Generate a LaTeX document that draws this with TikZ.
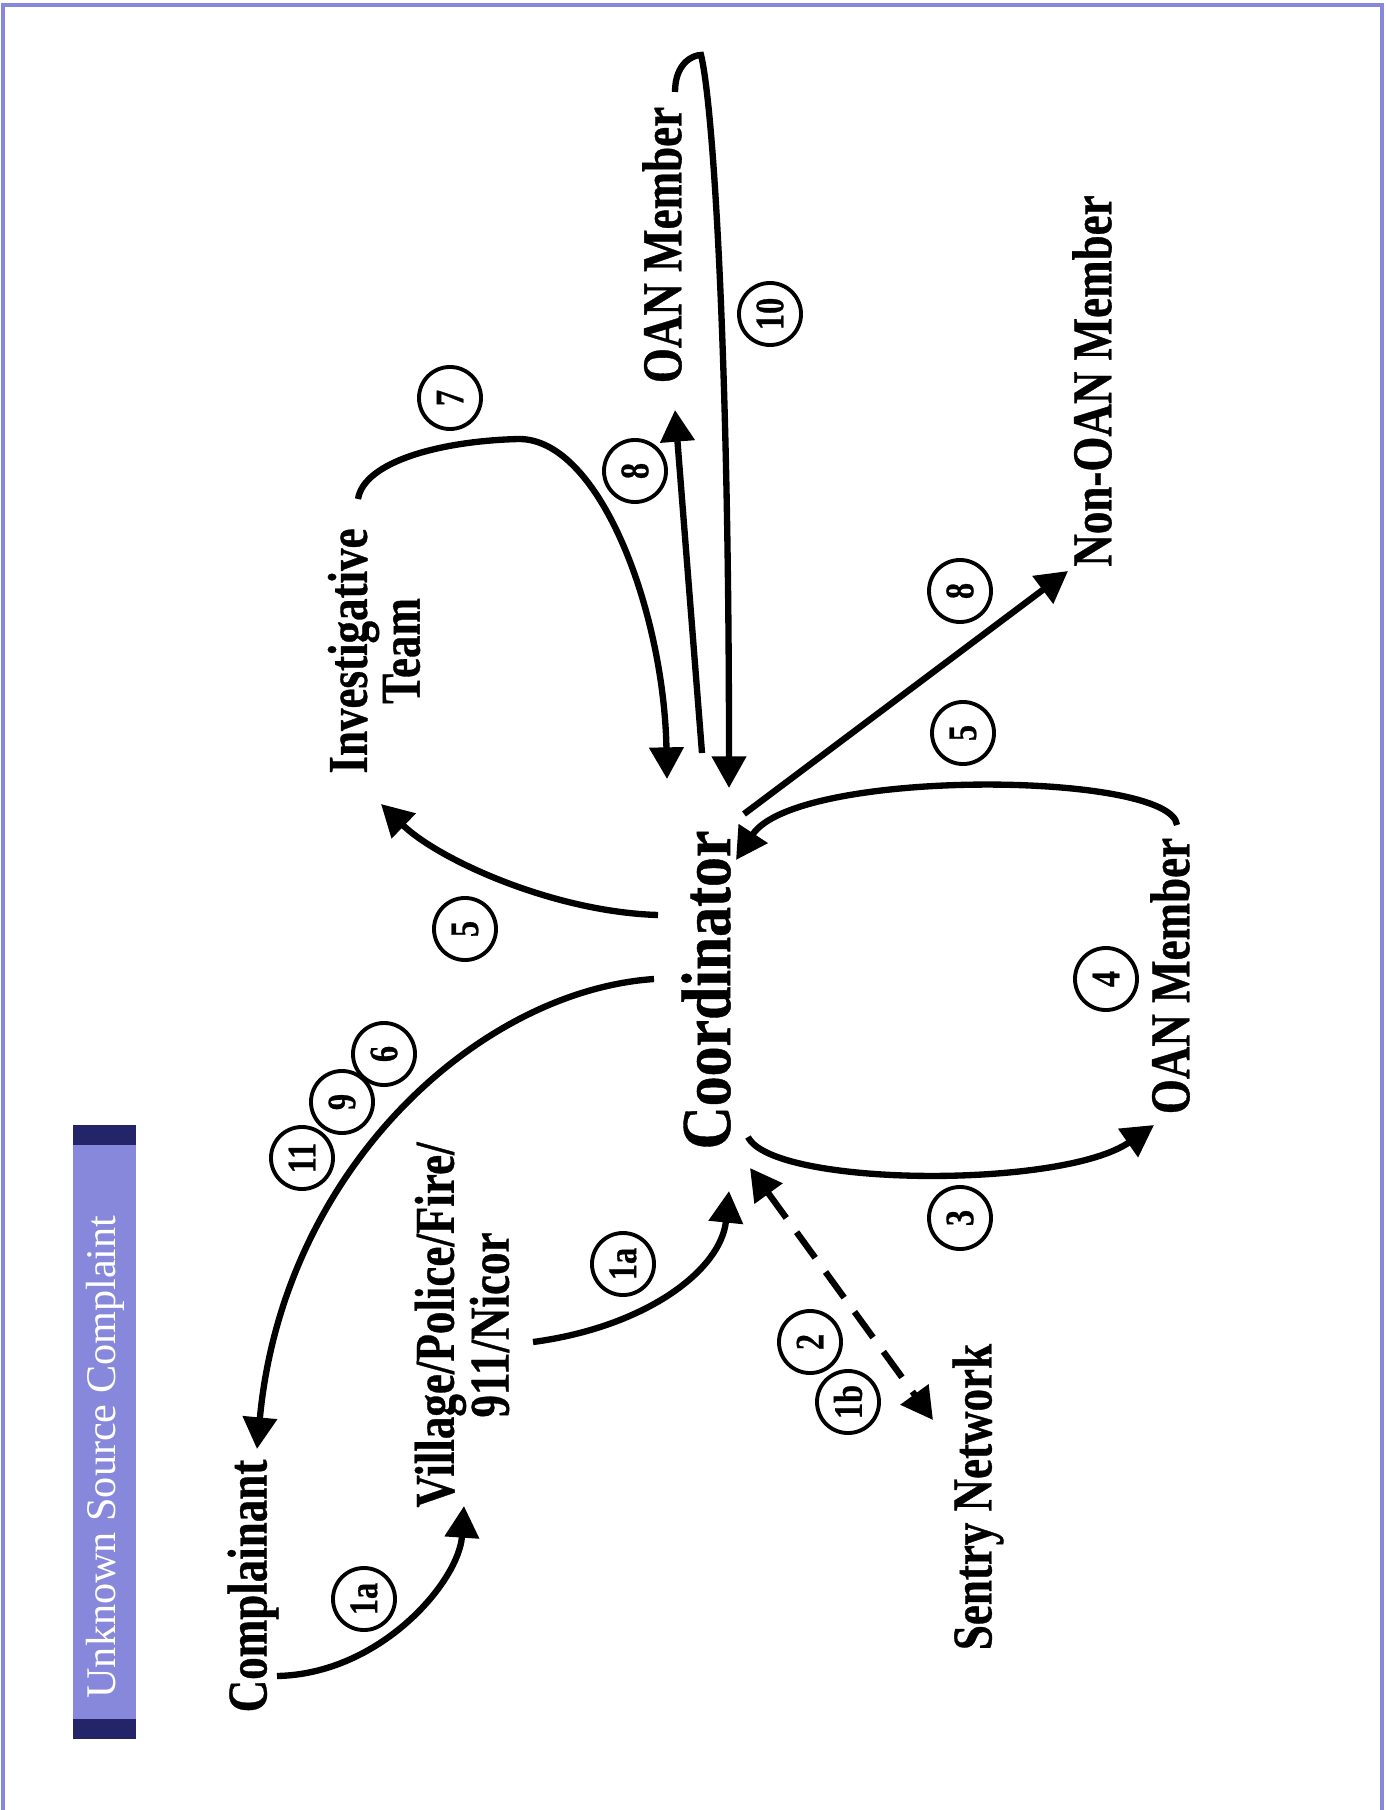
\documentclass[tikz,border=0pt]{standalone}
\usepackage{fontspec}
\usetikzlibrary{arrows.meta, calc}
\newfontfamily\lblfont[FakeStretch=0.8, BoldFeatures={FakeBold=0.6}]{Liberation Serif}
\newfontfamily\coordfont[FakeStretch=0.85, BoldFeatures={FakeBold=0.6}]{Liberation Serif}
\newfontfamily\titlefont{Liberation Serif}
\definecolor{barblue}{RGB}{135,135,220}
\definecolor{barnavy}{RGB}{36,36,104}
\tikzset{
  party/.style={font=\lblfont\bfseries\fontsize{16}{14}\selectfont, align=center, inner sep=0pt, rotate=90},
  num/.style={draw, circle, line width=1.1pt, minimum size=6.2mm, inner sep=0pt, rotate=90, font=\lblfont\bfseries\fontsize{11.5}{11.5}\selectfont},
  flow/.style={line width=1.8pt, ->},
  >={Triangle[length=9pt, width=9.5pt]},
}

\begin{document}
\begin{tikzpicture}[x=0.01cm, y=-0.01cm]
  \useasboundingbox (0,0) rectangle (1385,1810);
  % frame and title bar
  \draw[barblue, line width=0.9pt] (3,1810) |- (1382,5) -- (1382,1810);
  \fill[barblue] (73,1125) rectangle (136,1739);
  \fill[barnavy] (73,1125) rectangle (136,1145);
  \fill[barnavy] (73,1719) rectangle (136,1739);
  \node[rotate=90, text=white, font=\titlefont\fontsize{12}{12}\selectfont] (title) at (105,1457) {Unknown Source Complaint};

  % parties
  \node[party] (comp) at (253,1586) {Complainant};
  \node[party] (vil) at (462,1325) {Village/Police/Fire/\\911/Nicor};
  \node[party, font=\coordfont\bfseries\fontsize{20}{20}\selectfont] (coord) at (706,990) {Coordinator};
  \node[party] (invest) at (374,651) {Investigative\\Team};
  \node[party] (oantop) at (662,245) {OAN Member};
  \node[party] (nonoan) at (1092,381) {Non-OAN Member};
  \node[party] (oanlow) at (1170,976) {OAN Member};
  \node[party] (sentry) at (978,1497) {Sentry Network};

  % flows
  \draw[flow] ($(comp)+(24,90)$) .. controls +(104,-2) and +(-5,75) .. ($(vil)+(2,181)$);
  \draw[flow] ($(vil)+(71,17)$) .. controls +(113,-15) and +(-8,79) .. ($(coord)+(23,201)$);
  \draw[flow] ($(coord)+(-52,-11)$) .. controls +(-175,12) and +(26,-280) .. ($(comp)+(4,-137)$);
  \draw[line width=1.8pt, <->, dash pattern=on 9pt off 5pt] ($(coord)+(44,178)$) -- ($(sentry)+(-45,-77)$);
  \draw[flow] ($(coord)+(42,147)$) .. controls +(25,50) and +(-92,64) .. ($(oanlow)+(-16,149)$);
  \draw[flow] ($(oanlow)+(7,-151)$) .. controls +(-6,-54) and +(60,-92) .. ($(coord)+(30,-130)$);
  \draw[flow] ($(coord)+(-48,-75)$) .. controls +(-104,-3) and +(58,56) .. ($(invest)+(7,153)$);
  \draw[flow] ($(invest)+(-16,-152)$) .. controls +(6,-37) and +(-80,2) .. ++(161,-60)
    .. controls +(81,0) and +(-3,-167) .. ($(coord)+(-39,-211)$);
  \draw[flow] ($(coord)+(-4,-237)$) -- ($(oantop)+(13,165)$);
  \draw[flow] ($(oantop)+(13,-153)$) .. controls +(0,-29) and +(-8,0) .. ++(26,-37)
    .. controls +(12,49) and +(0,-442) .. ($(coord)+(23,-202)$);
  \draw[flow] ($(coord)+(38,-176)$) -- ($(nonoan)+(-24,190)$);

  % step numbers
  \node[num] (n1a) at (364,1599) {1a};
  \node[num] (n1a2) at (623,1264) {1a};
  \node[num] (n11) at (302,1158) {11};
  \node[num] (n9) at (342,1102) {9};
  \node[num] (n6) at (384,1054) {6};
  \node[num] (n2) at (810,1342) {2};
  \node[num] (n1b) at (848,1402) {1b};
  \node[num] (n3) at (960,1218) {3};
  \node[num] (n4) at (1106,979) {4};
  \node[num] (n5r) at (963,733) {5};
  \node[num] (n5l) at (465,929) {5};
  \node[num] (n7) at (450,398) {7};
  \node[num] (n8a) at (635,471) {8};
  \node[num] (n10) at (770,314) {10};
  \node[num] (n8b) at (960,591) {8};
\end{tikzpicture}
\end{document}
